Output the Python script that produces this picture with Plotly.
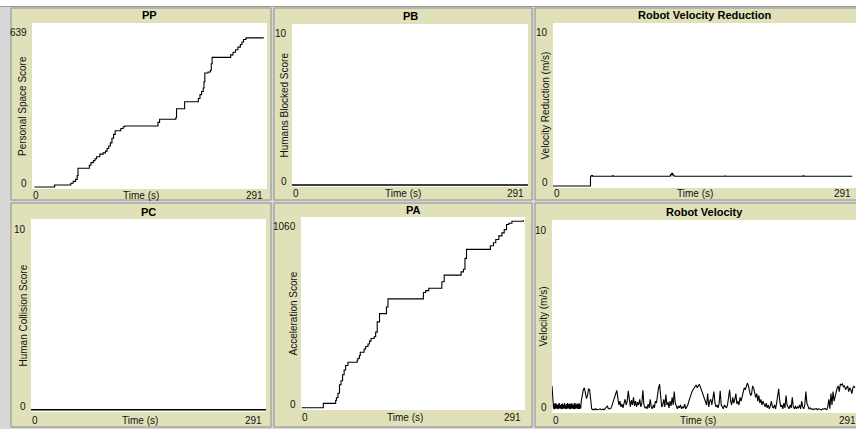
import plotly.graph_objects as go

W, H = 856, 429

# ---------------- data ----------------
x_max = 291
x_label = "Time (s)"
titles = ["PP", "PB", "Robot Velocity Reduction", "PC", "PA", "Robot Velocity"]
y_labels = ["Personal Space Score", "Humans Blocked Score", "Velocity Reduction (m/s)",
            "Human Collision Score", "Acceleration Score", "Velocity (m/s)"]
y_max = [639, 10, 10, 10, 1060, 10]

pp_t = [3, 28, 45, 48, 51, 54, 56, 57, 69, 71, 73, 76, 78, 80, 84, 88, 91, 93, 95, 97, 99, 101,
        103, 108, 110, 113, 115, 154, 156, 158, 177, 178, 179, 188, 189, 204, 206, 208, 210, 212,
        213, 214, 218, 221, 222, 223, 243, 246, 249, 252, 255, 258, 260, 262, 265, 287]
pp_v = [0, 8, 8, 15, 22, 30, 45, 73, 73, 85, 95, 103, 110, 118, 128, 133, 140, 150, 160, 172, 190, 205,
        219, 219, 228, 235, 238, 238, 252, 264, 264, 270, 305, 305, 332, 332, 345, 360, 372, 386,
        410, 444, 448, 455, 480, 505, 505, 515, 525, 535, 545, 555, 565, 575, 581, 581]

pb_t = [0, 291]
pb_v = [0, 0]

vr_t = [0, 35, 36, 37, 38, 57, 58, 112, 113, 114, 115, 116, 117, 165, 166, 240, 241, 287]
vr_v = [0, 0, 0.6, 0.65, 0.6, 0.63, 0.6, 0.62, 0.7, 0.78, 0.68, 0.62, 0.6, 0.62, 0.6, 0.63, 0.6, 0.58]

pc_t = [0, 291]
pc_v = [0, 0]

pa_t = [1, 29, 44, 45, 46, 48, 50, 52, 54, 56, 58, 61, 72, 73, 74, 76, 77, 82, 84, 87, 89, 91, 95,
        97, 99, 102, 110, 111, 113, 158, 159, 162, 166, 181, 183, 186, 206, 208, 211, 213, 215, 244,
        246, 250, 253, 257, 261, 264, 267, 270, 274, 289]
pa_v = [0, 24, 24, 40, 55, 80, 128, 150, 183, 210, 235, 253, 253, 265, 275, 290, 308, 326, 340, 354,
        370, 385, 394, 420, 477, 523, 523, 560, 605, 605, 640, 651, 664, 664, 700, 737, 737, 755, 770,
        830, 880, 880, 900, 917, 935, 955, 972, 990, 1018, 1025, 1036, 1042]

# robot velocity: first 28 s sampled every half second, then every second
rv_start_v = [
    1.3, 0.9, 0.4, 0.1, 0.35, 0.08, 0.4, 0.1, 0.38, 0.12, 0.3, 0.08, 0.36, 0.1, 0.4, 0.12,
    0.3, 0.1, 0.35, 0.08, 0.38, 0.1, 0.32, 0.12, 0.4, 0.1, 0.3, 0.09, 0.36, 0.1, 0.4, 0.12,
    0.33, 0.1, 0.38, 0.08, 0.35, 0.1, 0.4, 0.12, 0.3, 0.1, 0.37, 0.08, 0.4, 0.1, 0.32, 0.12,
    0.38, 0.1, 0.35, 0.09, 0.4, 0.1, 0.3, 0.12,
]
rv_rest_v = [
    0.5, 0.9, 1.1, 1.2, 0.9, 0.64, 0.8, 1.15, 1.1, 0.4,
    0.1, 0.05, 0.08, 0.05, 0.1, 0.06, 0.05, 0.08, 0.1, 0.05, 0.06, 0.08, 0.05, 0.1, 0.15, 0.25, 0.1, 0.08, 0.1,
    0.2, 0.4, 0.6, 0.8, 0.95, 1.07, 0.7,
    0.3, 0.5, 0.2, 0.35, 0.15, 0.4, 0.6, 0.3, 0.5,
    1.04,
    0.4, 0.2, 0.55, 0.3, 0.7, 0.25, 0.5, 0.2, 0.45, 0.3, 0.6, 0.2, 0.4,
    1.07,
    0.3, 0.15, 0.2, 0.1, 0.35, 0.15, 0.6, 0.2, 0.1, 0.3, 0.15, 0.5,
    0.4, 0.9, 1.2, 1.39, 0.5, 0.2,
    0.3, 0.6, 0.2, 0.85, 0.3, 0.45, 0.15, 0.5, 0.25, 0.7, 0.3,
    1.0,
    0.4, 0.2, 0.1, 0.25, 0.15, 0.3, 0.1, 0.2, 0.15, 0.35, 0.1, 0.2, 0.3, 0.5,
    0.7, 0.9, 1.0, 1.1, 1.2, 1.3, 1.35, 1.2, 1.3, 1.39, 1.25, 1.1, 0.9, 0.7, 0.6, 0.4,
    0.3, 0.9, 0.2, 0.5, 0.6, 0.3, 0.8, 1.0, 0.4, 0.2, 0.3,
    0.15, 0.4, 1.05, 0.3, 0.2, 0.1, 0.3, 0.2, 0.15, 0.3,
    0.6, 1.1, 0.5, 0.3, 0.7, 0.4, 0.6, 0.9, 0.35, 0.5, 0.3, 0.7, 0.5, 0.8,
    0.9, 1.2, 1.1, 1.3, 1.45, 1.3, 1.0, 0.8, 0.85, 1.3, 1.2, 1.0, 0.7, 0.9, 0.5, 0.8, 0.4, 0.6, 0.3, 0.5, 0.3,
    0.2, 0.4, 0.15, 0.3, 0.1, 0.25, 0.5, 0.2, 0.15, 0.3, 0.1, 0.4, 0.7,
    1.15,
    0.5, 0.2, 0.3, 0.1, 0.4, 0.15, 0.8, 0.3, 0.2, 0.1, 0.3, 0.15, 0.7, 0.2, 0.1, 0.25, 0.1, 0.2,
    0.15, 0.3, 0.1, 0.5, 0.2, 0.1, 0.3, 1.0, 0.4, 0.2, 0.1, 0.15,
    0.08, 0.1, 0.05, 0.1, 0.08, 0.12, 0.05, 0.1, 0.08, 0.1, 0.05, 0.1, 0.08, 0.12, 0.1, 0.05,
    0.2, 0.6, 0.1, 0.9, 0.3, 1.0, 0.5, 0.8, 1.1,
    1.2, 1.3, 1.0, 1.4, 1.35, 1.4, 1.25, 1.3, 1.1, 1.2, 1.3, 1.0, 1.2, 1.1, 0.9, 1.2, 1.3, 1.2,
]
rv_t = [k * 0.5 for k in range(len(rv_start_v))] + [28 + k for k in range(len(rv_rest_v))]
rv_v = rv_start_v + rv_rest_v

series = [(pp_t, pp_v, "hv"), (pb_t, pb_v, "linear"), (vr_t, vr_v, "hv"),
          (pc_t, pc_v, "linear"), (pa_t, pa_v, "hv"), (rv_t, rv_v, "linear")]

# ---------------- geometry (pixels) ----------------
panels = [(11, 8, 271, 200), (274, 8, 532, 200), (535, 8, 860, 200),
          (11, 203, 271, 427), (274, 203, 532, 427), (535, 203, 860, 427)]
plots = [(32, 23, 267, 189), (292, 24, 528, 187), (553, 23, 856, 188),
         (31, 219, 266, 412), (301, 217, 525, 410), (552, 220, 856, 413)]
title_y = [15, 16, 15, 212, 210, 212]
ylab_x = [23, 284, 545, 23, 293, 543]
xlab_x = [141, 403, 695, 140, 405, 698]
xlab_y = [195, 193, 193, 420, 417, 420]
xmax_right = [265, 526, 853, 264, 523, 858]


def fx(p):
    return p / W


def fy(p):
    return 1 - p / H


FONT = "Liberation Sans"
TXT = "#111111"

fig = go.Figure()
layout = dict(
    width=W, height=H, autosize=False,
    margin=dict(l=0, r=0, t=0, b=0),
    paper_bgcolor="#d7d7d7", plot_bgcolor="#ffffff",
    showlegend=False,
    font=dict(family=FONT, size=10, color=TXT),
)

shapes = [
    dict(type="rect", xref="paper", yref="paper", x0=0, x1=1, y0=fy(0), y1=fy(6),
         fillcolor="#ffffff", line=dict(width=0), layer="below"),
    dict(type="line", xref="paper", yref="paper", x0=0, x1=1, y0=fy(6.5), y1=fy(6.5),
         line=dict(color="#9a9a9a", width=1), layer="below"),
]
white_shapes = []
annotations = []

for i in range(6):
    t, v, shape = series[i]
    ax = "" if i == 0 else str(i + 1)
    pl, pt, pr, pbm = plots[i]
    Pl, Pt, Pr, Pb = panels[i]
    shapes.append(dict(type="rect", xref="paper", yref="paper",
                       x0=fx(Pl), x1=fx(Pr), y0=fy(Pb), y1=fy(Pt),
                       fillcolor="#e1e1b9", line=dict(color="#8e8e8e", width=1), layer="below"))
    white_shapes.append(dict(type="rect", xref="paper", yref="paper",
                             x0=fx(pl), x1=min(fx(pr), 1.0), y0=fy(pbm), y1=fy(pt),
                             fillcolor="#ffffff", line=dict(width=0), layer="below"))
    lw = 1.5 if i in (1, 3) else 1.1
    fig.add_trace(go.Scatter(x=t, y=v, mode="lines", line=dict(color="#000000", width=lw, shape=shape),
                             xaxis="x" + ax, yaxis="y" + ax, hoverinfo="skip"))
    ylo = -0.012 * y_max[i]
    layout["xaxis" + ax] = dict(domain=[fx(pl), min(fx(pr), 1.0)], range=[0, x_max],
                                anchor="y" + ax, showticklabels=False, showgrid=False,
                                zeroline=False, showline=False, ticks="", fixedrange=True)
    layout["yaxis" + ax] = dict(domain=[fy(pbm), fy(pt)], range=[ylo, y_max[i]],
                                anchor="x" + ax, showticklabels=False, showgrid=False,
                                zeroline=False, showline=False, ticks="", fixedrange=True)
    # title
    annotations.append(dict(text="<b>%s</b>" % titles[i], x=fx((pl + pr) / 2), y=fy(title_y[i]),
                            xref="paper", yref="paper", xanchor="center", yanchor="middle",
                            showarrow=False, font=dict(size=11, color="#000000")))
    # y axis label
    annotations.append(dict(text=y_labels[i], x=fx(ylab_x[i]), y=fy((pt + pbm) / 2),
                            xref="paper", yref="paper", xanchor="center", yanchor="middle",
                            textangle=-90, showarrow=False, font=dict(size=10)))
    # x axis label
    annotations.append(dict(text=x_label, x=fx(xlab_x[i]), y=fy(xlab_y[i]),
                            xref="paper", yref="paper", xanchor="center", yanchor="middle",
                            showarrow=False, font=dict(size=10)))
    # x range labels
    annotations.append(dict(text="0", x=fx(pl - 1), y=fy(xlab_y[i]),
                            xref="paper", yref="paper", xanchor="left", yanchor="middle",
                            showarrow=False, font=dict(size=10)))
    annotations.append(dict(text=str(x_max), x=fx(xmax_right[i]), y=fy(xlab_y[i]),
                            xref="paper", yref="paper", xanchor="right", yanchor="middle",
                            showarrow=False, font=dict(size=10)))
    # y range labels
    annotations.append(dict(text=str(y_max[i]), x=fx(pl - 3), y=fy(pt + 10),
                            xref="paper", yref="paper", xanchor="right", yanchor="middle",
                            showarrow=False, font=dict(size=10)))
    annotations.append(dict(text="0", x=fx(pl - 3), y=fy(pbm - 6),
                            xref="paper", yref="paper", xanchor="right", yanchor="middle",
                            showarrow=False, font=dict(size=10)))

layout["shapes"] = shapes + white_shapes
layout["annotations"] = annotations
fig.update_layout(**layout)
fig.write_html("out.html", config={"displayModeBar": False},
               post_script="document.body.style.margin='0';document.body.style.overflow='hidden';")
